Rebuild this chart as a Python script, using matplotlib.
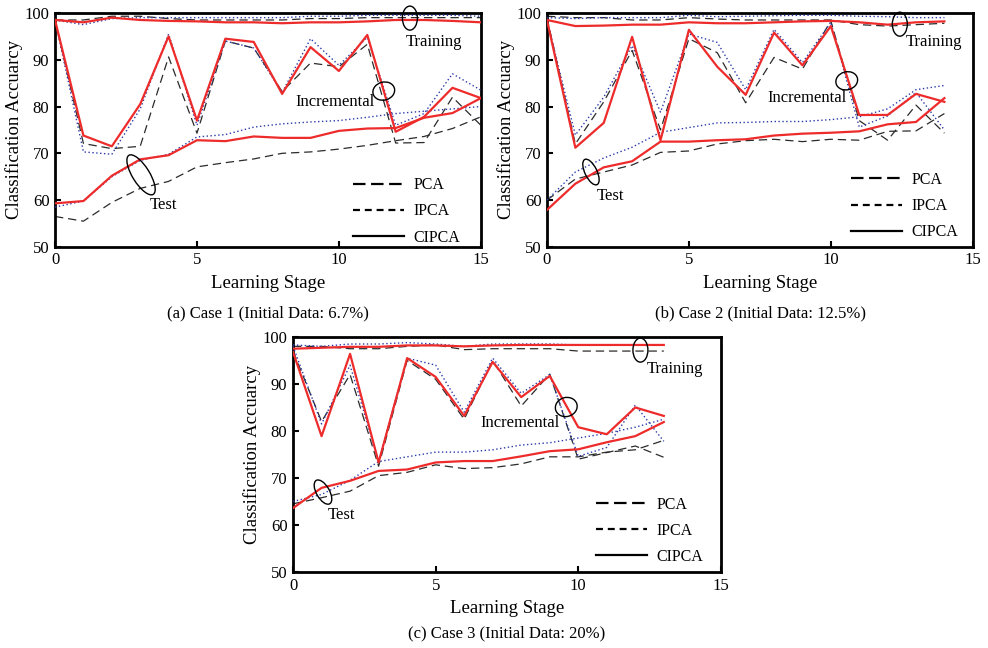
import matplotlib.pyplot as plt
import matplotlib.transforms as mtransforms
from matplotlib.patches import Ellipse
from matplotlib.lines import Line2D

plt.rcParams['font.family'] = ['Liberation Serif', 'DejaVu Serif']
plt.rcParams['lines.scale_dashes'] = False

# ---- Case 1 (Initial Data: 6.7%), stages 0..15
c1_stage = list(range(16))
c1_train_pca = [98.5, 98.5, 99.3, 99.3, 98.8, 98.5, 98.5, 98.5, 98.5, 98.8, 98.8, 99.0, 99.0, 99.0, 99.0, 99.0]
c1_train_ipca = [98.5, 97.5, 98.8, 99.0, 99.0, 99.0, 99.0, 99.0, 99.0, 99.3, 99.3, 99.5, 99.5, 99.5, 99.5, 99.3]
c1_train_cipca = [98.5, 98.0, 99.0, 98.5, 98.3, 98.2, 98.0, 98.0, 97.8, 98.0, 98.0, 98.2, 98.5, 98.5, 98.3, 98.0]
c1_inc_pca = [98.5, 72.1, 71.0, 71.5, 90.6, 74.3, 94.0, 92.5, 83.2, 89.3, 88.5, 93.3, 72.2, 72.3, 82.0, 76.0]
c1_inc_ipca = [98.5, 70.3, 69.8, 79.5, 95.5, 76.0, 94.0, 92.5, 83.0, 94.5, 88.8, 94.8, 76.0, 78.5, 87.0, 83.5]
c1_inc_cipca = [98.5, 73.8, 71.5, 80.5, 95.0, 77.0, 94.5, 93.8, 82.7, 92.7, 87.6, 95.3, 74.6, 77.8, 84.0, 81.8]
c1_test_pca = [56.5, 55.5, 59.5, 62.5, 64.0, 67.1, 68.0, 68.8, 70.0, 70.3, 70.9, 71.7, 72.7, 73.6, 75.3, 77.8]
c1_test_ipca = [58.5, 59.8, 65.0, 68.5, 69.8, 73.5, 74.0, 75.6, 76.3, 76.7, 77.0, 77.7, 78.5, 79.0, 79.5, 80.0]
c1_test_cipca = [59.3, 59.8, 65.2, 68.7, 69.6, 72.8, 72.6, 73.6, 73.3, 73.3, 74.8, 75.3, 75.4, 77.6, 78.6, 81.8]

# ---- Case 2 (Initial Data: 12.5%), stages 0..14
c2_stage = list(range(15))
c2_train_pca = [99.3, 99.0, 99.0, 98.5, 98.5, 99.0, 98.7, 98.5, 98.5, 98.5, 98.5, 97.5, 97.2, 97.5, 97.8]
c2_train_ipca = [99.0, 98.8, 99.0, 99.0, 99.0, 99.5, 99.2, 99.3, 99.4, 99.5, 99.5, 99.3, 99.2, 99.0, 99.0]
c2_train_cipca = [98.5, 97.2, 97.3, 97.5, 97.5, 98.0, 97.8, 97.8, 98.0, 98.2, 98.3, 98.0, 97.5, 98.0, 98.2]
c2_inc_pca = [99.0, 72.0, 81.0, 92.0, 75.0, 94.5, 91.5, 80.8, 90.5, 88.0, 98.3, 77.0, 72.8, 80.3, 74.3]
c2_inc_ipca = [98.5, 73.9, 82.0, 93.0, 78.8, 95.5, 93.7, 83.6, 96.5, 89.4, 98.0, 75.6, 78.0, 83.0, 75.0]
c2_inc_cipca = [98.5, 71.2, 76.5, 94.9, 72.8, 96.4, 88.5, 82.5, 95.8, 88.8, 97.2, 78.2, 78.2, 82.7, 81.0]
c2_test_pca = [60.0, 64.5, 66.0, 67.5, 70.2, 70.5, 72.0, 72.7, 73.0, 72.5, 73.0, 72.8, 74.7, 74.8, 78.5]
c2_test_ipca = [60.0, 66.0, 69.0, 71.3, 74.5, 75.5, 76.5, 76.6, 76.8, 76.8, 77.2, 77.8, 79.5, 83.6, 84.5]
c2_test_cipca = [57.9, 63.5, 67.0, 68.3, 72.5, 72.5, 72.8, 73.0, 73.8, 74.2, 74.4, 74.7, 76.2, 76.7, 81.8]

# ---- Case 3 (Initial Data: 20%), stages 0..13
c3_stage = list(range(14))
c3_train_pca = [98.0, 98.0, 97.5, 97.5, 98.0, 98.3, 97.3, 97.5, 97.5, 97.5, 97.0, 97.0, 97.0, 97.0]
c3_train_ipca = [98.3, 98.0, 98.5, 98.5, 98.8, 98.5, 98.0, 98.5, 98.5, 98.5, 98.3, 98.3, 98.3, 98.3]
c3_train_cipca = [97.5, 97.7, 97.9, 97.9, 98.2, 98.2, 98.0, 98.2, 98.3, 98.3, 98.3, 98.3, 98.3, 98.3]
c3_inc_pca = [97.0, 82.0, 92.0, 72.5, 95.0, 91.0, 82.5, 95.0, 85.3, 92.1, 74.0, 75.4, 76.8, 74.4]
c3_inc_ipca = [98.0, 81.5, 94.0, 73.5, 95.5, 94.0, 84.0, 95.5, 88.0, 92.0, 74.6, 76.5, 85.5, 77.8]
c3_inc_cipca = [96.8, 78.9, 96.4, 73.3, 95.5, 91.5, 83.2, 94.7, 87.2, 91.7, 80.8, 79.3, 85.0, 83.2]
c3_test_pca = [64.5, 65.8, 67.2, 70.5, 71.2, 72.8, 72.0, 72.2, 73.0, 74.5, 74.5, 75.5, 76.0, 78.0]
c3_test_ipca = [65.0, 66.5, 69.5, 73.5, 74.5, 75.5, 75.5, 76.0, 77.0, 77.5, 78.5, 79.5, 80.8, 82.5]
c3_test_cipca = [63.6, 67.9, 69.4, 71.5, 71.8, 73.3, 73.6, 73.6, 74.6, 75.7, 76.1, 77.6, 78.9, 81.9]

RED = '#ee2b2b'
BLUE = '#2a3aa8'
GREY = '#2b2b2b'

fig = plt.figure(figsize=(9.88, 6.48), dpi=100)


def ring(ax, x, y, w, h, ang=0):
    # ellipse sized in pixels, centred on a data point
    tr = fig.dpi_scale_trans + mtransforms.ScaledTranslation(x, y, ax.transData)
    ax.add_patch(Ellipse((0, 0), w / 100, h / 100, angle=ang, transform=tr,
                         fill=False, lw=1.0, ec='black', clip_on=False, zorder=6))


def draw_case(ax, stage, pca, ipca, cipca):
    for s in pca:
        ax.plot(stage, s, color=GREY, lw=0.9, dashes=(6, 3.5), zorder=2)
    for s in ipca:
        ax.plot(stage, s, color=BLUE, lw=1.0, dashes=(1, 1.8), zorder=3)
    for s in cipca:
        ax.plot(stage, s, color=RED, lw=1.6, zorder=4)
    ax.set_xlim(0, 15)
    ax.set_ylim(50, 100)
    ax.set_xticks([0, 5, 10, 15])
    ax.set_yticks([50, 60, 70, 80, 90, 100])
    ax.tick_params(direction='in', length=4, width=1.5, labelsize=12, pad=4)
    for sp in ax.spines.values():
        sp.set_linewidth(2.0)
    ax.set_xlabel('Learning Stage', fontsize=13.5, labelpad=5)
    ax.set_ylabel('Classification Accuarcy', fontsize=13.5, labelpad=1)


def add_legend(ax, x0, y0):
    handles = [Line2D([], [], color='black', lw=1.6, dashes=(9, 4)),
               Line2D([], [], color='black', lw=1.6, dashes=(5, 3.5)),
               Line2D([], [], color='black', lw=1.6)]
    ax.legend(handles, ['PCA', 'IPCA', 'CIPCA'], loc='upper left',
              bbox_to_anchor=(x0, y0), frameon=False, fontsize=11.5,
              handlelength=3.2, handletextpad=0.6, labelspacing=0.63,
              borderpad=0, borderaxespad=0)


ax1 = fig.add_axes([0.0557, 0.619, 0.431, 0.361])
draw_case(ax1, c1_stage,
          [c1_train_pca, c1_inc_pca, c1_test_pca],
          [c1_train_ipca, c1_inc_ipca, c1_test_ipca],
          [c1_train_cipca, c1_inc_cipca, c1_test_cipca])
add_legend(ax1, 0.70, 0.297)
ring(ax1, 12.5, 98.9, 15, 24)
ax1.text(12.36, 93.8, 'Training', fontsize=12, va='center')
ring(ax1, 11.58, 83.3, 22, 18, 15)
ax1.text(8.45, 81.0, 'Incremental', fontsize=12, va='center')
ring(ax1, 3.03, 65.4, 46, 17, -58)
ax1.text(3.35, 59.0, 'Test', fontsize=12, va='center')

ax2 = fig.add_axes([0.5536, 0.619, 0.431, 0.361])
draw_case(ax2, c2_stage,
          [c2_train_pca, c2_inc_pca, c2_test_pca],
          [c2_train_ipca, c2_inc_ipca, c2_test_ipca],
          [c2_train_cipca, c2_inc_cipca, c2_test_cipca])
add_legend(ax2, 0.714, 0.32)
ring(ax2, 12.43, 97.6, 15, 24)
ax2.text(12.64, 93.8, 'Training', fontsize=12, va='center')
ring(ax2, 10.56, 85.5, 22, 18, 15)
ax2.text(7.75, 81.8, 'Incremental', fontsize=12, va='center')
ring(ax2, 1.55, 66.0, 28, 12, -64)
ax2.text(1.76, 60.9, 'Test', fontsize=12, va='center')

ax3 = fig.add_axes([0.2966, 0.1173, 0.433, 0.3627])
draw_case(ax3, c3_stage,
          [c3_train_pca, c3_inc_pca, c3_test_pca],
          [c3_train_ipca, c3_inc_ipca, c3_test_ipca],
          [c3_train_cipca, c3_inc_cipca, c3_test_cipca])
add_legend(ax3, 0.708, 0.32)
ring(ax3, 12.18, 97.2, 15, 24)
ax3.text(12.39, 93.2, 'Training', fontsize=12, va='center')
ring(ax3, 9.58, 85.1, 22, 19, 15)
ax3.text(6.56, 81.7, 'Incremental', fontsize=12, va='center')
ring(ax3, 1.05, 67.0, 27, 13, -60)
ax3.text(1.23, 62.1, 'Test', fontsize=12, va='center')

fig.text(268 / 988, 1 - 313 / 648, '(a) Case 1 (Initial Data: 6.7%)', ha='center', va='center', fontsize=12)
fig.text(760 / 988, 1 - 313 / 648, '(b) Case 2 (Initial Data: 12.5%)', ha='center', va='center', fontsize=12)
fig.text(507 / 988, 1 - 633 / 648, '(c) Case 3 (Initial Data: 20%)', ha='center', va='center', fontsize=12)

fig.savefig('out.png', dpi=100)
